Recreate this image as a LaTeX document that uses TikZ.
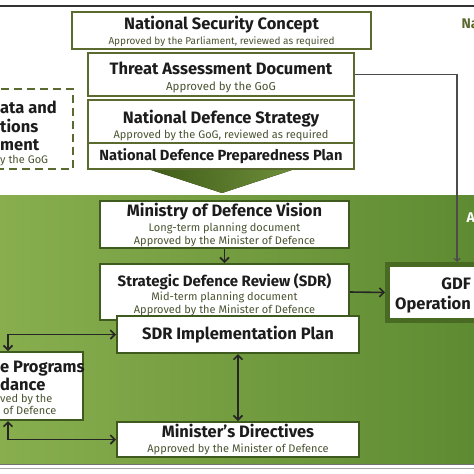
\documentclass[tikz,border=0pt]{standalone}
\usepackage{fontspec}
\setsansfont{Fira Sans}
\usetikzlibrary{arrows.meta}
\definecolor{olivebd}{HTML}{5B6A2E}
\definecolor{darkbd}{HTML}{3E5A1E}
\definecolor{gdfbd}{HTML}{486A22}
\definecolor{notecol}{HTML}{4A5432}
\definecolor{bgleft}{HTML}{88AE4E}
\definecolor{bgmid}{HTML}{AAC66F}
\definecolor{bgright}{HTML}{5E8B32}
\definecolor{chevdark}{HTML}{405C18}
\definecolor{chevlight}{HTML}{6E8F3A}
\definecolor{titlecol}{HTML}{1C1C1C}
\newcommand{\boxtitle}[2][16.5]{{\fontsize{#1}{18}\selectfont\bfseries #2}}
\newcommand{\boxnote}[2][11]{{\fontsize{#1}{13}\selectfont\color{notecol}#2}}
\newcommand{\lift}[1]{\rule{0pt}{#1pt}}
\tikzset{
  upperbox/.style={draw=olivebd, line width=1.6pt, fill=white, inner sep=0pt, align=center,
    font=\sffamily\fontsize{10}{14}\selectfont, text=titlecol},
  lowerbox/.style={draw=darkbd, line width=2pt, fill=white, inner sep=0pt, align=center,
    font=\sffamily\fontsize{10}{14}\selectfont, text=titlecol},
  cuttext/.style={anchor=west, inner sep=0pt, align=left, font=\sffamily\fontsize{10}{14}\selectfont, text=titlecol},
  flow/.style={line width=1.6pt, draw=black!85, -{Straight Barb[length=4.5pt,width=9pt]}},
  bothflow/.style={flow, {Straight Barb[length=4.5pt,width=9pt]}-{Straight Barb[length=4.5pt,width=9pt]}},
  thinflow/.style={line width=1.1pt, draw=black!70, -{Straight Barb[length=3pt,width=6pt]}}
}

\begin{document}
\begin{tikzpicture}[x=1pt,y=-1pt]
\useasboundingbox (0,0) rectangle (474,474);
\clip (0,0) rectangle (474,474);
\fill[white] (0,0) rectangle (474,474);
\draw[line width=1.2pt, black!80] (0,6) -- (474,6);

% green band
\shade[left color=bgleft, middle color=bgmid, right color=bgright] (0,195) rectangle (474,463);
\draw[black!55, line width=0.8pt] (0,464) -- (474,464);
\draw[black!35, line width=0.8pt] (0,468.5) -- (474,468.5);

% national level
\node[upperbox, minimum width=299, minimum height=37] (nsc) at (221.5,30.5)
  {\lift{16}\boxtitle{National Security Concept}\\[1pt]\boxnote[10]{Approved by the Parliament, reviewed as required}};
\node[upperbox, minimum width=266, minimum height=43] (tad) at (221,74.5)
  {\lift{18}\boxtitle{Threat Assessment Document}\\[2pt]\boxnote[11.5]{Approved by the GoG}};
\fill[left color=chevdark, right color=chevlight] (148,169) -- (295,169) -- (222,193) -- cycle;
\node[upperbox, minimum width=266, minimum height=43] (nds) at (221,121.5)
  {\lift{21}\boxtitle{National Defence Strategy}\\[1pt]\boxnote{Approved by the GoG, reviewed as required}};
\node[upperbox, minimum width=266, minimum height=26] (ndpp) at (221,156)
  {\boxtitle[14.7]{National Defence Preparedness Plan}};

\node[draw=olivebd, line width=1.8pt, dash pattern=on 8pt off 5pt, fill=white,
  minimum width=103, minimum height=80] (scen) at (21.5,129) {};
\node[cuttext] (scentxt) at (0,133)
  {\boxtitle{ata and}\\[5pt]\boxtitle{tions}\\[4pt]\boxtitle{ment}\\[-1pt]\boxnote{y the GoG}};

\node[anchor=west, text=olivebd, font=\sffamily\bfseries\fontsize{14}{16}\selectfont] (natlvl) at (458,24) {Na};

% ministry level
\node[anchor=west, text=white, font=\sffamily\bfseries\fontsize{14}{16}\selectfont] (agclvl) at (463,218) {A};

\node[lowerbox, minimum width=249, minimum height=47] (mod) at (224.5,224.5)
  {\lift{14}\boxtitle{Ministry of Defence Vision}\\[1pt]\boxnote{Long-term planning document}\\[-1pt]\boxnote{Approved by the Minister of Defence}};
\node[lowerbox, minimum width=249, minimum height=56] (sdr) at (224.5,292)
  {\lift{19}\boxtitle[15]{Strategic Defence Review (SDR)}\\[0pt]\boxnote{Mid-term planning document}\\[-1pt]\boxnote{Approved by the Minister of Defence}};
\node[lowerbox, minimum width=242, minimum height=37] (impl) at (238,334.5)
  {\boxtitle{SDR Implementation Plan}};
\node[lowerbox, minimum width=242, minimum height=35] (mdir) at (238,439.5)
  {\boxtitle{Minister's Directives}\\[1pt]\boxnote{Approved by the Minister of Defence}};

\node[lowerbox, minimum width=150, minimum height=68] (prog) at (8,386) {};
\node[cuttext] (progtxt) at (0,388)
  {\boxtitle{e Programs}\\[1pt]\boxtitle{dance}\\[-2pt]\boxnote{ved by the}\\[-2pt]\boxnote{\hspace*{3pt}of Defence}};

\node[draw=gdfbd, line width=5pt, fill=white, minimum width=139, minimum height=56] (gdf) at (457,292.5) {};
\node[anchor=east, inner sep=0pt, align=right, font=\sffamily\fontsize{10}{14}\selectfont, text=titlecol] (gdftxt) at (471,295)
  {\boxtitle{GDF}\\[6pt]\boxtitle{Operation}};

% connectors
\draw[thinflow] (tad.east) -| (gdf.north);
\draw[flow] (mod) -- (sdr);
\draw[flow] (sdr.east) -- (gdf.west);
\draw[bothflow] (impl.south) -- (mdir.north);
\draw[bothflow] (impl.west) -| (prog.north);
\draw[bothflow] (mdir.west) -| (prog.south);
\end{tikzpicture}
\end{document}
